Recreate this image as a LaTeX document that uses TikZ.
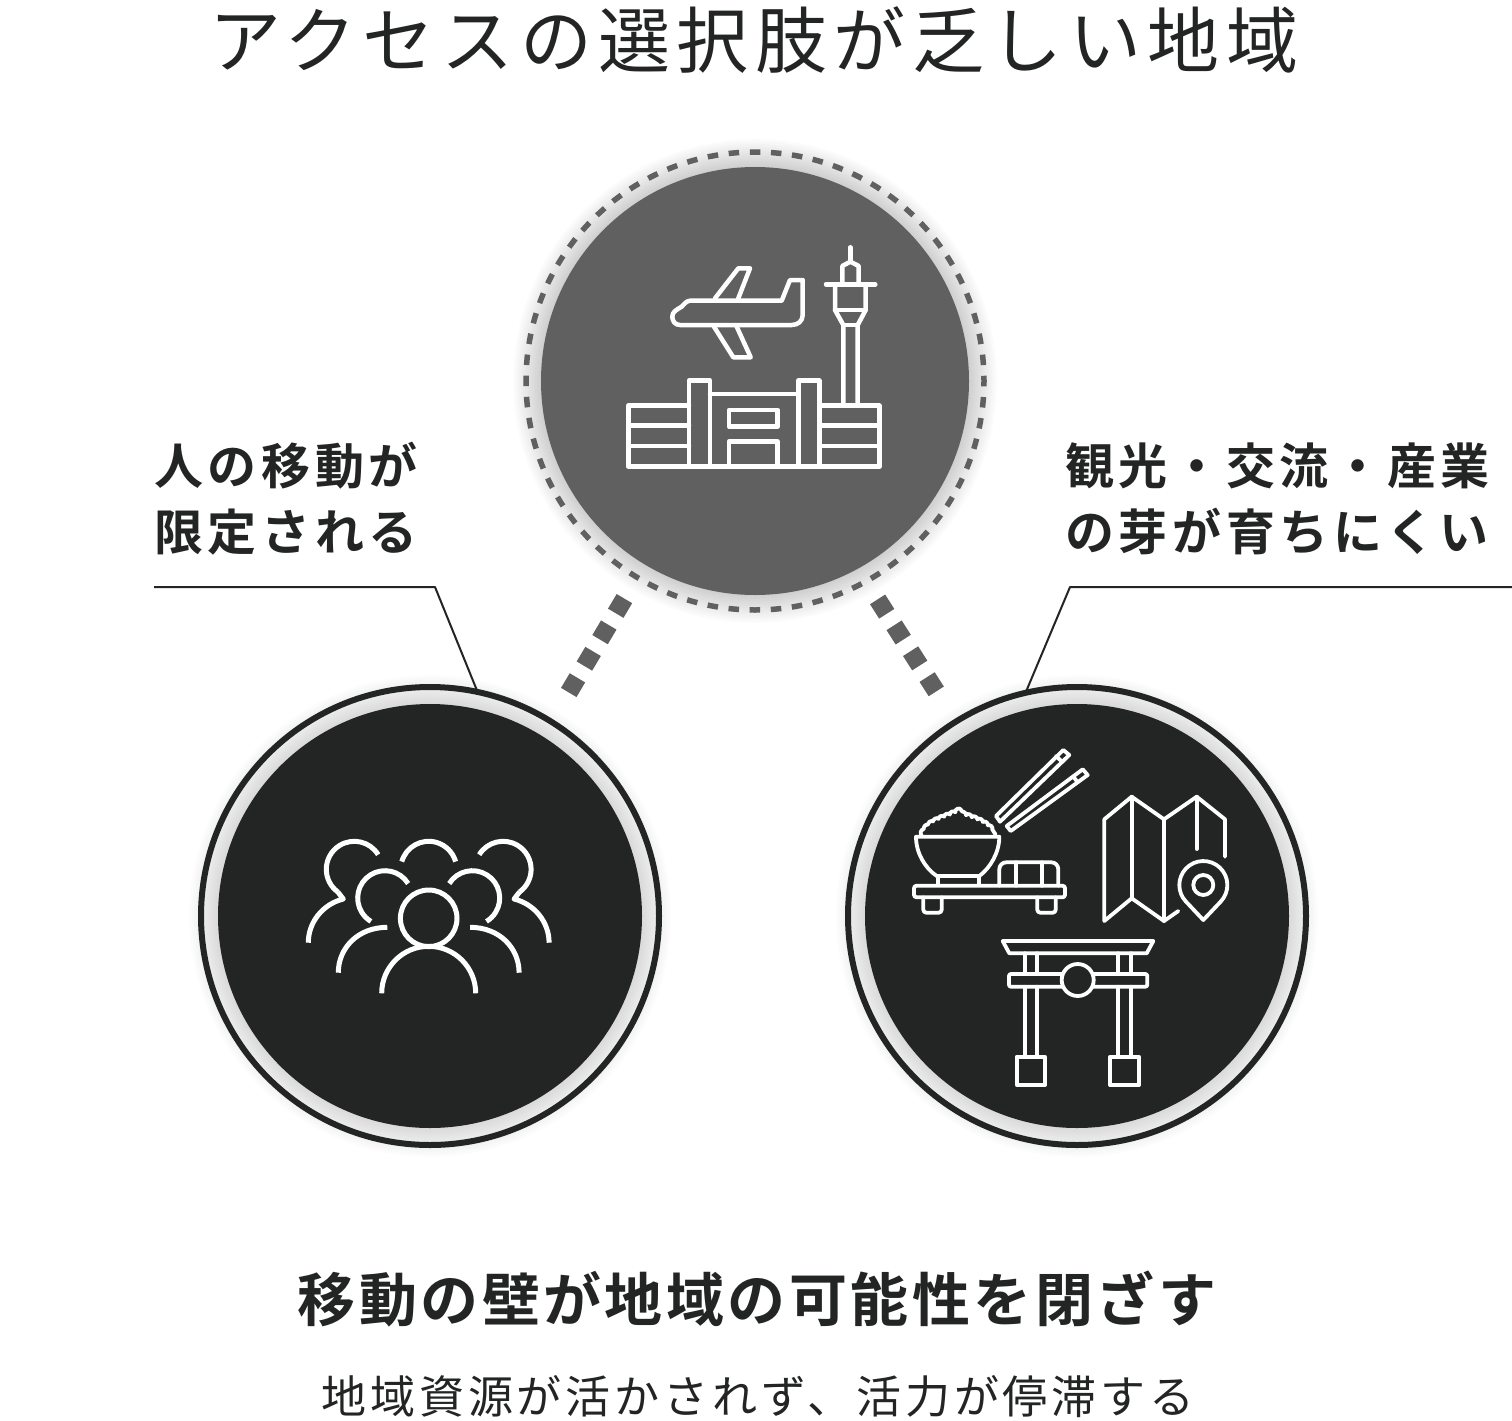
\documentclass[tikz,border=0pt]{standalone}
\usepackage{fontspec}
\usepackage{tikz}
\usetikzlibrary{positioning,decorations.pathmorphing}
\setmainfont{Noto Sans CJK JP}[LetterSpace=7,BoldFont={Noto Sans CJK JP Bold}]
\newfontfamily\thinjp{Noto Sans CJK JP}[LetterSpace=9]
\definecolor{inkdark}{HTML}{232524}
\definecolor{inkgray}{HTML}{606060}
\tikzstyle{disc}=[circle,minimum size=424pt,inner sep=0pt,outer sep=0pt]
\tikzstyle{hub}=[circle,minimum size=458pt,inner sep=0pt,outer sep=0pt]
\tikzstyle{hubdash}=[hub,draw=inkgray,line width=5.5pt,dash pattern=on 10.5pt off 10.66pt,dash phase=5.25pt]
\tikzstyle{hubring}=[hub,draw=inkdark,line width=6pt]
\tikzstyle{stub}=[draw=inkgray,line width=18pt,dash pattern=on 17pt off 13.7pt]
\tikzstyle{leader}=[draw=inkdark,line width=2pt,line join=round]
\tikzstyle{iconline}=[draw=white,line width=4.5pt,line join=round,line cap=round]
\tikzstyle{iconfine}=[draw=white,line width=3.8pt,line join=round,line cap=round]
\tikzstyle{crowdline}=[draw=white,line width=5pt,line join=round]
\tikzstyle{titletext}=[text=inkdark,inner sep=0pt,font=\thinjp\fontsize{72}{72}\selectfont]
\tikzstyle{sidetext}=[text=inkdark,inner sep=0pt,align=left,anchor=north west,font=\bfseries\addfontfeature{LetterSpace=9.5}\fontsize{49}{66}\selectfont]
\tikzstyle{captext}=[text=inkdark,inner sep=0pt,font=\bfseries\addfontfeature{LetterSpace=6}\fontsize{58}{58}\selectfont]
\tikzstyle{subtext}=[text=inkdark,inner sep=0pt,font=\thinjp\addfontfeature{LetterSpace=8.7}\fontsize{45}{45}\selectfont]
\newcommand{\glowat}[4]{%
    \foreach \k in {1,...,12}
        \fill[black,opacity=#4] (#1,#2) circle ({#3+2.4*\k});
}
\begin{document}
\begin{tikzpicture}[x=1pt,y=-1pt]
    \useasboundingbox (0,0) rectangle (1512,1421);
    \fill[white] (0,0) rectangle (1512,1421);
    \glowat{755}{381}{213}{.014}
    \glowat{430}{916}{212}{.010}
    \glowat{1077}{916}{212}{.010}
    \foreach \nm/\pos/\col/\dia in {airportdisc/{(755,381)}/inkgray/428pt,peopledisc/{(430,916)}/inkdark/424pt,localdisc/{(1077,916)}/inkdark/424pt}
        \node[disc,fill=\col,minimum size=\dia] (\nm) at \pos {};
    \node[hubdash] (airport) at (755,381) {};
    \node[hubring] (people) at (430,916) {};
    \node[hubring] (local) at (1077,916) {};

    \node[titletext] (title) at (754,40) {アクセスの選択肢が乏しい地域};
    \node[sidetext] (leftlabel) at (154,442) {人の移動が\\限定される};
    \node[sidetext] (rightlabel) at (1065,442) {観光・交流・産業\\の芽が育ちにくい};
    \node[captext] (caption) at (757,1299) {移動の壁が地域の可能性を閉ざす};
    \node[subtext] (subcaption) at (758,1397) {地域資源が活かされず、活力が停滞する};

    \path[stub,shorten <=24.8pt,shorten >=32.7pt] (airport.239.6) -- (people.58.5);
    \path[stub,shorten <=21.5pt,shorten >=34.8pt] (airport.299) -- (local.122.3);

    \coordinate (leftend) at (154,587);
    \coordinate (leftbend) at (435,587);
    \coordinate (rightend) at (1512,587);
    \coordinate (rightbend) at (1070,587);
    \path[leader] (leftend) -- (leftbend) -- (people.78.3);
    \path[leader] (rightend) -- (rightbend) -- (local.103);

    \draw[iconline] (690,300.7) -- (781.7,300.7) -- (790,280) -- (802.7,280) -- (802.7,315) .. controls (802.7,321) and (798,325) .. (791.7,325) -- (680,325) .. controls (675,325) and (672.3,321) .. (672.3,316.7) .. controls (672.3,312) and (676,310) .. (681.7,306.7) .. controls (684,304) and (687,300.7) .. (690,300.7);
    \draw[iconline] (715,298.3) -- (738.3,268.3) -- (750,268.3) -- (738.3,298.3);
    \draw[iconline] (714,326.7) -- (733.3,357.3) -- (750.7,357.3) -- (736.7,326.7);
    \draw[iconline] (850.3,247.3) -- (850.3,261.7);
    \draw[iconline] (842.3,284.3) -- (842.3,266) -- (850.3,261.7) -- (858.7,266) -- (858.7,284.3);
    \draw[iconline] (826,284.3) -- (875.3,284.3);
    \draw[iconline] (835,284.3) -- (835,310) -- (843.3,325) -- (843.3,405.7);
    \draw[iconline] (865.7,284.3) -- (865.7,310) -- (857.7,325) -- (857.7,405.7);
    \draw[iconline] (835,310) -- (865.7,310);
    \draw[iconline] (843.3,325) -- (857.7,325);
    \draw[iconline] (689,405.7) -- (628.3,405.7) -- (628.3,466.7) -- (879.3,466.7) -- (879.3,405.7) -- (819.3,405.7);
    \draw[iconline] (689,466.7) -- (689,380.7) -- (710,380.7) -- (710,466.7);
    \draw[iconline] (798.3,466.7) -- (798.3,380.7) -- (819.3,380.7) -- (819.3,466.7);
    \draw[iconline] (710,394) -- (798.3,394);
    \foreach \ly in {425.7,446} {
        \draw[iconline] (628.3,\ly) -- (689,\ly);
        \draw[iconline] (819.3,\ly) -- (879.3,\ly);
    }
    \draw[iconline] (729,410) rectangle (777.7,426.7);
    \draw[iconline] (729,466.7) -- (729,441.7) -- (777.7,441.7) -- (777.7,466.7);

    \foreach \cx/\cy/\rad/\a/\b in {354.3/869.3/28/-31.5/-234,428.7/869.3/28/-164/-16,503.1/869.3/28/-148.5/54,385/898/27.3/-32/-239,472.4/898/27.3/-148/59}
        \draw[crowdline] ([shift={(\a:\rad)}]\cx,\cy) arc (\a:\b:\rad);
    \draw[crowdline] (428.7,918.3) circle (28.3);
    \draw[crowdline] (381.7,993.3) arc (180:360:47);
    \draw[crowdline] (338.3,972.7) .. controls (338.3,948) and (358,927.3) .. (387.3,927.3);
    \draw[crowdline] (519.1,972.7) .. controls (519.1,948) and (499.4,927.3) .. (470.1,927.3);
    \draw[crowdline] (308.3,942.7) .. controls (308.3,922) and (323,904) .. (343.3,899) -- (337.8,891.9);
    \draw[crowdline] (549.1,942.7) .. controls (549.1,922) and (534.4,904) .. (514.1,899) -- (519.6,891.9);

    \draw[iconfine] (996,816) -- (1063.3,750) -- (1069.3,755) -- (1000,821.7) -- cycle;
    \draw[iconfine] (1056,756) -- (1062.3,762);
    \draw[iconfine] (1006.7,826) -- (1082.7,769.3) -- (1087.7,775) -- (1010.7,831) -- cycle;
    \draw[iconfine] (1073.3,776.7) -- (1077.7,782.3);
    \draw[iconfine] (916,836.7) -- (999.3,836.7) .. controls (999.3,853) and (990,868) .. (979.3,876) -- (936.7,876) .. controls (925,868) and (916,853) .. (916,836.7) -- cycle;
    \draw[iconfine] (938.3,876) -- (938.3,885);
    \draw[iconfine] (979.3,876) -- (979.3,885);
    \draw[iconfine,decorate,decoration={bumps,segment length=12pt,amplitude=2pt}] (921.7,835) .. controls (927,820) and (945,818) .. (957.3,811) .. controls (970,818) and (988,820) .. (995,835);
    \draw[iconfine,rounded corners=2.5pt] (914,885.7) rectangle (1065,897.3);
    \draw[iconfine,rounded corners=3pt] (923.3,897.3) -- (923.3,912.7) -- (941.7,912.7) -- (941.7,897.3);
    \draw[iconfine,rounded corners=3pt] (1037.3,897.3) -- (1037.3,912.7) -- (1055.7,912.7) -- (1055.7,897.3);
    \draw[iconfine,rounded corners=7pt] (999.3,885.7) -- (999.3,862.3) -- (1058.3,862.3) -- (1058.3,885.7);
    \draw[iconfine] (1016,862.3) -- (1016,885.7);
    \draw[iconfine] (1041.7,862.3) -- (1041.7,885.7);

    \draw[iconfine] (1178.3,911) -- (1164,921) -- (1131.7,898.3) -- (1104.3,921) -- (1104.3,819.3) -- (1131.7,796.7) -- (1164,819.3) -- (1196.7,796.7) -- (1225,819.3) -- (1225,856.7);
    \draw[iconfine] (1131.7,796.7) -- (1131.7,898.3);
    \draw[iconfine] (1164,819.3) -- (1164,921);
    \draw[iconfine] (1196.7,796.7) -- (1196.7,849);
    \draw[iconfine] (1203.3,920) -- (1220.8,901.5) arc (-316.7:-583.3:24) -- cycle;
    \draw[iconfine] (1203.3,885) circle (10);

    \draw[iconfine] (1002.7,941) -- (1153.3,941) -- (1146.7,953.3) -- (1009.3,953.3) -- cycle;
    \foreach \px in {1025,1036.7,1118.3,1130.7} {
        \draw[iconfine] (\px,953.3) -- (\px,974);
        \draw[iconfine] (\px,986.7) -- (\px,1056.7);
    }
    \draw[iconfine,rounded corners=2pt] (1009,974) rectangle (1147.3,986.7);
    \draw[iconfine,fill=inkdark] (1077.7,980) circle (16);
    \draw[iconfine] (1016.7,1056.7) rectangle (1045,1085);
    \draw[iconfine] (1110,1056.7) rectangle (1139,1085);
\end{tikzpicture}
\end{document}
